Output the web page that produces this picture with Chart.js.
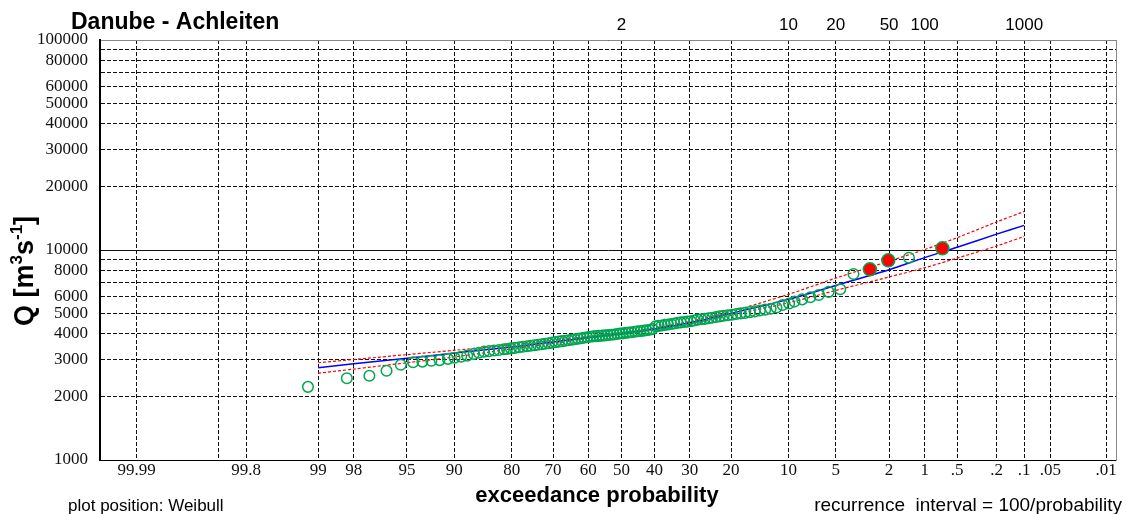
<!DOCTYPE html>
<html><head><meta charset="utf-8">
<script src="https://cdn.jsdelivr.net/npm/chart.js@4.4.0/dist/chart.umd.min.js"></script>
<style>html,body{margin:0;padding:0;background:#fff;}#wrap{width:1127px;height:514px;}</style>
</head><body><div id="wrap"><canvas id="c" width="1127" height="514"></canvas></div>
<script>
// ---------- data ----------
const chartTitle = 'Danube - Achleiten';
const xTitle = 'exceedance probability';
const footLeft = 'plot position: Weibull';
const footRight = 'recurrence  interval = 100/probability';

const xTickValues = [99.99, 99.9, 99.8, 99, 98, 95, 90, 80, 70, 60, 50, 40, 30, 20, 10, 5, 2, 1, 0.5, 0.2, 0.1, 0.05, 0.01];
const xTickLabels = ['99.99', '', '99.8', '99', '98', '95', '90', '80', '70', '60', '50', '40', '30', '20', '10', '5', '2', '1', '.5', '.2', '.1', '.05', '.01'];
const topTickValues = [50, 10, 5, 2, 1, 0.1];
const topTickLabels = ['2', '10', '20', '50', '100', '1000'];
const yGridValues = [1000, 2000, 3000, 4000, 5000, 6000, 7000, 8000, 9000, 10000, 20000, 30000, 40000, 50000, 60000, 70000, 80000, 90000, 100000];
const yTickLabels = ['1000', '2000', '3000', '4000', '5000', '6000', '', '8000', '', '10000', '20000', '30000', '40000', '50000', '60000', '', '80000', '', '100000'];

// observed annual maxima (exceedance probability %, discharge m3/s)
const obsProb = [99.19, 98.24, 97.34, 96.42, 95.47, 94.50, 93.66, 92.76, 91.85, 90.84, 89.97, 89.05, 88.16, 87.12, 86.30, 85.39, 84.50, 83.57, 82.61, 81.62, 81.00,
  80.18, 79.28, 78.38, 77.48, 76.58, 75.68, 74.77, 73.87, 72.97, 72.07, 71.17, 70.27, 69.37, 68.47, 67.57, 66.67, 65.77, 64.86, 63.96, 63.06,
  62.16, 61.26, 60.36, 59.46, 58.56, 57.66, 56.76, 55.86, 54.95, 54.05, 53.15, 52.25, 51.35, 50.45, 49.55, 48.65, 47.75, 46.85, 45.95, 45.05,
  44.14, 43.24, 42.34, 41.44, 40.54, 39.64, 38.74, 37.84, 36.94, 36.04, 35.14, 34.23, 33.33, 32.43, 31.53, 30.63, 29.73, 28.83, 27.93, 27.03,
  26.13, 25.23, 24.32, 23.42, 22.52, 21.62, 20.72, 19.82, 18.92, 18.02, 17.12, 16.22, 15.32, 14.41, 13.51, 12.61, 11.71, 10.81, 9.91,
  9.21, 8.27, 7.36, 6.50, 5.59, 4.66, 3.75, 1.37];
const obsQ = [2230, 2450, 2520, 2660, 2840, 2920, 2940, 2970, 2990, 3030, 3070, 3100, 3140, 3200, 3240, 3280, 3300, 3320, 3340, 3370, 3380,
  3400, 3420, 3440, 3460, 3480, 3500, 3520, 3540, 3560, 3580, 3600, 3620, 3640, 3660, 3680, 3700, 3720, 3740, 3760, 3780,
  3800, 3820, 3840, 3860, 3880, 3890, 3900, 3910, 3920, 3940, 3950, 3960, 3980, 4000, 4010, 4030, 4050, 4060, 4080, 4100,
  4110, 4130, 4150, 4170, 4200, 4330, 4350, 4370, 4400, 4420, 4440, 4470, 4500, 4520, 4540, 4560, 4580, 4620, 4660, 4680,
  4700, 4730, 4760, 4800, 4830, 4860, 4890, 4920, 4960, 4990, 5020, 5060, 5100, 5150, 5200, 5250, 5320, 5470, 5560,
  5680, 5820, 5960, 6110, 6320, 6500, 7690, 9190];
// highlighted largest floods
const histProb = [2.83, 2.03, 0.69];
const histQ = [8090, 8930, 10180];

// fitted distribution and confidence limits
const fitProb = [99, 98, 95, 90, 80, 70, 60, 50, 40, 30, 20, 10, 5, 2, 1, 0.5, 0.2, 0.1];
const fitQ   = [2750, 2870, 3050, 3230, 3450, 3650, 3830, 4000, 4210, 4500, 4990, 5820, 6780, 8050, 9200, 10300, 11900, 13100];
const upperQ = [2905, 3010, 3175, 3330, 3530, 3710, 3875, 4035, 4255, 4570, 5100, 6150, 7350, 8850, 10050, 11450, 13600, 15250];
const lowerQ = [2590, 2710, 2905, 3095, 3380, 3590, 3790, 3970, 4180, 4460, 4900, 5600, 6420, 7440, 8230, 9150, 10450, 11600];

// ---------- probability (normal) scale ----------
function normInv(p) {
  const a = [-3.969683028665376e+01, 2.209460984245205e+02, -2.759285104469687e+02, 1.383577518672690e+02, -3.066479806614716e+01, 2.506628277459239e+00];
  const b = [-5.447609879822406e+01, 1.615858368580409e+02, -1.556989798598866e+02, 6.680131188771972e+01, -1.328068155288572e+01];
  const c = [-7.784894002430293e-03, -3.223964580411365e-01, -2.400758277161838e+00, -2.549732539343734e+00, 4.374664141464968e+00, 2.938163982698783e+00];
  const d = [7.784695709041462e-03, 3.224671290700398e-01, 2.445134137142996e+00, 3.754408661907416e+00];
  const pl = 0.02425, ph = 1 - pl;
  let q, r;
  if (p < pl) { q = Math.sqrt(-2 * Math.log(p)); return (((((c[0]*q+c[1])*q+c[2])*q+c[3])*q+c[4])*q+c[5]) / ((((d[0]*q+d[1])*q+d[2])*q+d[3])*q+1); }
  if (p <= ph) { q = p - 0.5; r = q*q; return (((((a[0]*r+a[1])*r+a[2])*r+a[3])*r+a[4])*r+a[5])*q / (((((b[0]*r+b[1])*r+b[2])*r+b[3])*r+b[4])*r+1); }
  q = Math.sqrt(-2 * Math.log(1 - p)); return -(((((c[0]*q+c[1])*q+c[2])*q+c[3])*q+c[4])*q+c[5]) / ((((d[0]*q+d[1])*q+d[2])*q+d[3])*q+1);
}
function normCdf(z) {
  const t = 1 / (1 + 0.2316419 * Math.abs(z));
  const y = 0.3989422804 * Math.exp(-z*z/2) * t * (0.31938153 + t*(-0.356563782 + t*(1.781477937 + t*(-1.821255978 + t*1.330274429))));
  return z > 0 ? 1 - y : y;
}
const zOf = pct => -normInv(pct / 100);

class ProbitScale extends Chart.Scale {
  parse(raw) { return raw == null ? null : +raw; }
  determineDataLimits() { this.min = this.options.pLeft; this.max = this.options.pRight; }
  buildTicks() { return (this.options.tickValues || []).map(v => ({ value: v })); }
  configure() { super.configure(); this._z0 = zOf(this.min); this._z1 = zOf(this.max); }
  getPixelForValue(v) { return this.getPixelForDecimal((zOf(v) - this._z0) / (this._z1 - this._z0)); }
  getValueForPixel(px) { const z = this._z0 + this.getDecimalForPixel(px) * (this._z1 - this._z0); return 100 * (1 - normCdf(z)); }
  getLabelForValue(v) { return String(v); }
}
ProbitScale.id = 'probit';
ProbitScale.defaults = {};
Chart.register(ProbitScale);

const pts = (px, py) => px.map((p, i) => ({ x: p, y: py[i] }));

const SERIF = '"Liberation Serif", "Times New Roman", serif';
const SANS = '"Liberation Sans", Arial, sans-serif';
const GREEN = '#00A651';

const annot = {
  id: 'annot',
  afterDraw(chart) {
    const c = chart.ctx;
    c.save();
    c.fillStyle = '#000';
    c.textBaseline = 'alphabetic';
    c.textAlign = 'left';
    c.font = 'bold 23px ' + SANS;
    c.fillText(chartTitle, 71, 29);
    c.textAlign = 'center';
    c.font = 'bold 22px ' + SANS;
    c.fillText(xTitle, 597, 502);
    c.font = '17px ' + SANS;
    c.textAlign = 'left';
    c.fillText(footLeft, 68, 511);
    c.font = '19px ' + SANS;
    c.textAlign = 'right';
    c.fillText(footRight, 1122, 511);
    // rotated y-axis title with superscripts
    c.translate(33, 326);
    c.rotate(-Math.PI / 2);
    c.textAlign = 'left';
    const parts = [['Q [m', false], ['3', true], ['s', false], ['-1', true], [']', false]];
    let x = 0;
    for (const [t, sup] of parts) {
      c.font = sup ? 'bold 17px ' + SANS : 'bold 27px ' + SANS;
      c.fillText(t, x, sup ? -11 : 0);
      x += c.measureText(t).width;
    }
    c.restore();
  }
};

new Chart(document.getElementById('c'), {
  type: 'scatter',
  data: {
    datasets: [
      { label: 'largest floods', data: pts(histProb, histQ), showLine: false, pointRadius: 6.5, pointBorderWidth: 1.5,
        pointBorderColor: GREEN, pointBackgroundColor: '#FF0000', order: 0 },
      { label: 'observed', data: pts(obsProb, obsQ), showLine: false, pointRadius: 5.3, pointBorderWidth: 1.5,
        pointBorderColor: GREEN, pointBackgroundColor: 'rgba(0,0,0,0)', order: 1 },
      { label: 'fit', data: pts(fitProb, fitQ), showLine: true, borderColor: '#0000FF', borderWidth: 1.5, pointRadius: 0, tension: 0.3, order: 2 },
      { label: 'upper', data: pts(fitProb, upperQ), showLine: true, borderColor: '#FF0000', borderWidth: 1.2, borderDash: [3, 2], pointRadius: 0, tension: 0.3, order: 3 },
      { label: 'lower', data: pts(fitProb, lowerQ), showLine: true, borderColor: '#FF0000', borderWidth: 1.2, borderDash: [3, 2], pointRadius: 0, tension: 0.3, order: 3 }
    ]
  },
  options: {
    responsive: false,
    animation: false,
    devicePixelRatio: 1,
    layout: { padding: 0 },
    plugins: { legend: { display: false }, tooltip: { enabled: false }, title: { display: false } },
    scales: {
      x: {
        type: 'probit', position: 'bottom', pLeft: 99.99683, pRight: 0.0074, tickValues: xTickValues,
        afterFit: s => { s.height = 54; },
        grid: { color: '#111', lineWidth: 1, drawTicks: false },
        border: { display: true, color: '#000', width: 1, dash: [4, 2] },
        ticks: { autoSkip: false, maxRotation: 0, padding: 0, color: '#111', font: { family: SERIF, size: 17 },
                 callback: (v, i) => xTickLabels[i] }
      },
      x2: {
        type: 'probit', position: 'top', pLeft: 99.99683, pRight: 0.0074, tickValues: topTickValues,
        afterFit: s => { s.height = 40; },
        grid: { drawOnChartArea: false, drawTicks: false },
        border: { display: true, color: '#888', width: 1 },
        ticks: { autoSkip: false, maxRotation: 0, padding: 4, color: '#000', font: { family: SANS, size: 17 },
                 callback: (v, i) => topTickLabels[i] }
      },
      y: {
        type: 'logarithmic', position: 'left', min: 1000, max: 100000,
        afterBuildTicks: s => { s.ticks = yGridValues.map(v => ({ value: v })); },
        afterFit: s => { s.width = 100; },
        grid: { color: '#111', lineWidth: 1, drawTicks: false },
        border: { display: true, color: '#000', width: 2, dash: ctx => (ctx.tick && ctx.tick.value === 10000) ? [] : [4, 2] },
        ticks: { autoSkip: false, padding: 12, color: '#111', font: { family: SERIF, size: 17 },
                 callback: (v, i) => yTickLabels[i] }
      },
      y2: {
        type: 'linear', position: 'right', min: 0, max: 1,
        afterFit: s => { s.width = 11; },
        grid: { drawOnChartArea: false, drawTicks: false },
        border: { display: true, color: '#888', width: 1 },
        ticks: { display: false }
      }
    }
  },
  plugins: [annot]
});
</script>
</body></html>
